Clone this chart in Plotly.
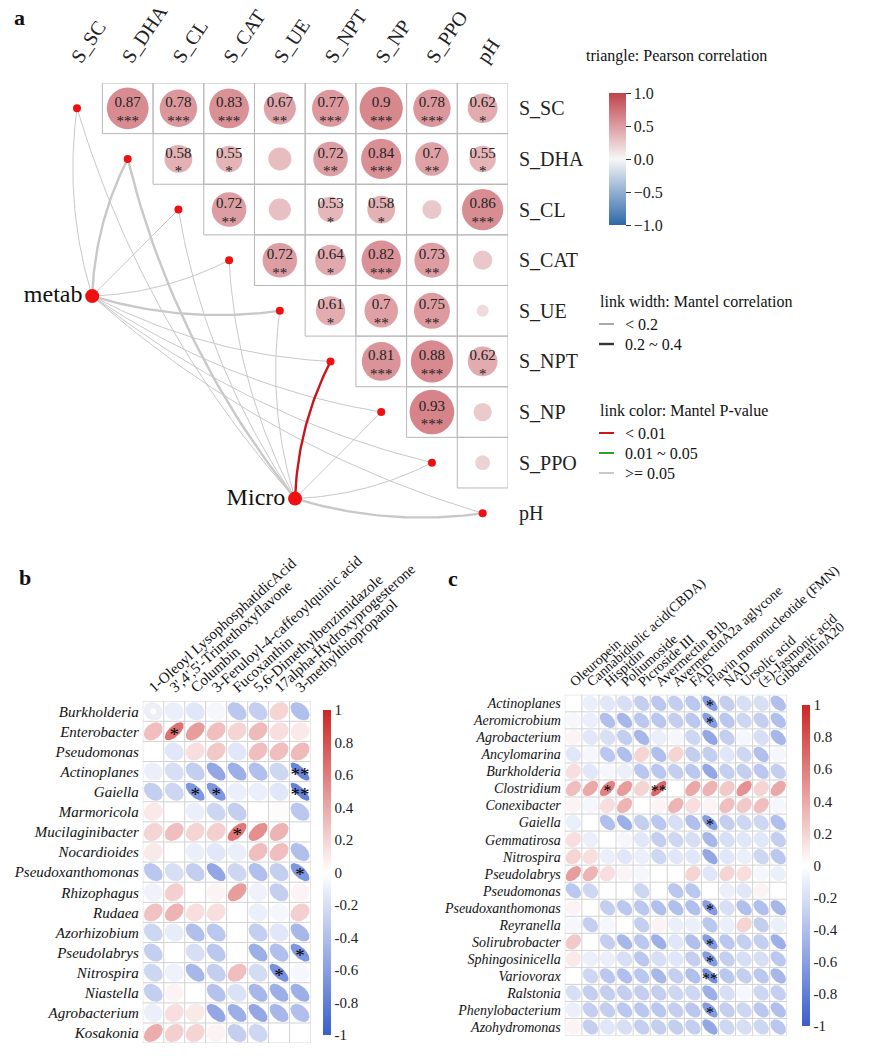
import math
import numpy as np
import plotly.graph_objects as go

SERIF = "Liberation Serif, Times New Roman, serif"
PAGE_OFF = 8                      # browser body margin
FW, FH = 870 - PAGE_OFF, 1056 - PAGE_OFF

# ---------------- Panel a data ----------------
env_vars = ["S_SC", "S_DHA", "S_CL", "S_CAT", "S_UE", "S_NPT", "S_NP", "S_PPO", "pH"]
# upper triangle, row i holds correlations with columns i+1 .. 8
pearson_r = [
    [0.87, 0.78, 0.83, 0.67, 0.77, 0.90, 0.78, 0.62],
    [0.58, 0.55, 0.48, 0.72, 0.84, 0.70, 0.55],
    [0.72, 0.46, 0.53, 0.58, 0.40, 0.86],
    [0.72, 0.64, 0.82, 0.73, 0.40],
    [0.61, 0.70, 0.75, 0.25],
    [0.81, 0.88, 0.62],
    [0.93, 0.38],
    [0.31],
]
pearson_sig = [
    ["***", "***", "***", "**", "***", "***", "***", "*"],
    ["*", "*", "", "**", "***", "**", "*"],
    ["**", "", "*", "*", "", "***"],
    ["**", "*", "***", "**", ""],
    ["*", "**", "**", ""],
    ["***", "***", "*"],
    ["***", ""],
    [""],
]
spec_names = ["metab", "Micro"]
spec_col = [0.30, 4.30]
spec_row = [3.71, 7.71]
mantel_r = [
    [0.12, 0.26, 0.10, 0.11, 0.24, 0.13, 0.10, 0.11, 0.12],
    [0.11, 0.23, 0.10, 0.10, 0.12, 0.31, 0.10, 0.13, 0.22],
]
mantel_p = [
    [0.21, 0.09, 0.35, 0.40, 0.12, 0.18, 0.30, 0.33, 0.28],
    [0.32, 0.11, 0.45, 0.38, 0.22, 0.004, 0.26, 0.19, 0.08],
]

# ---------------- Panel b data ----------------
b_taxa = ["Burkholderia", "Enterobacter", "Pseudomonas", "Actinoplanes", "Gaiella",
          "Marmoricola", "Mucilaginibacter", "Nocardioides", "Pseudoxanthomonas",
          "Rhizophagus", "Rudaea", "Azorhizobium", "Pseudolabrys", "Nitrospira",
          "Niastella", "Agrobacterium", "Kosakonia"]
b_metabolites = ["1-Oleoyl LysophosphatidicAcid", "3',4',5'-Trimethoxyflavone", "Columbin",
                 "3-Feruloyl-4-caffeoylquinic acid", "Fucoxanthin",
                 "5,6-Dimethylbenzimidazole", "17alpha-Hydroxyprogesterone",
                 "3-methylthiopropanol"]
b_r = [
    [-0.10, -0.10, -0.15, -0.05, -0.35, -0.30, 0.20, -0.40],
    [0.30, 0.65, 0.45, 0.30, 0.20, 0.32, 0.15, 0.10],
    [0.00, -0.15, 0.15, 0.25, -0.15, 0.30, 0.30, 0.32],
    [-0.10, -0.20, -0.30, -0.55, -0.50, -0.40, -0.25, -0.76],
    [-0.30, -0.25, -0.65, -0.65, -0.10, -0.10, -0.15, -0.78],
    [0.10, 0.00, -0.10, -0.25, -0.30, 0.00, 0.02, -0.35],
    [0.20, 0.30, 0.20, 0.22, 0.62, 0.52, 0.35, 0.00],
    [0.10, 0.00, -0.10, -0.15, -0.10, 0.30, 0.30, -0.40],
    [-0.35, -0.20, -0.30, -0.55, -0.25, -0.40, -0.30, -0.65],
    [-0.08, 0.22, 0.00, 0.05, 0.45, -0.08, -0.30, 0.05],
    [0.28, 0.35, 0.15, 0.15, 0.00, -0.10, -0.05, 0.22],
    [-0.25, -0.12, -0.40, -0.35, 0.00, -0.30, -0.15, -0.45],
    [-0.30, 0.00, -0.20, -0.35, 0.00, -0.50, -0.40, -0.65],
    [-0.25, -0.08, -0.45, -0.30, 0.30, -0.22, -0.68, -0.05],
    [-0.30, 0.05, 0.00, -0.38, -0.18, -0.45, -0.50, -0.50],
    [-0.10, 0.15, 0.10, -0.55, -0.50, -0.55, -0.45, -0.40],
    [0.38, 0.22, 0.20, 0.05, -0.30, -0.25, 0.00, 0.00],
]
b_sig = [
    ["", "", "", "", "", "", "", ""],
    ["", "*", "", "", "", "", "", ""],
    ["", "", "", "", "", "", "", ""],
    ["", "", "", "", "", "", "", "**"],
    ["", "", "*", "*", "", "", "", "**"],
    ["", "", "", "", "", "", "", ""],
    ["", "", "", "", "*", "", "", ""],
    ["", "", "", "", "", "", "", ""],
    ["", "", "", "", "", "", "", "*"],
    ["", "", "", "", "", "", "", ""],
    ["", "", "", "", "", "", "", ""],
    ["", "", "", "", "", "", "", ""],
    ["", "", "", "", "", "", "", "*"],
    ["", "", "", "", "", "", "*", ""],
    ["", "", "", "", "", "", "", ""],
    ["", "", "", "", "", "", "", ""],
    ["", "", "", "", "", "", "", ""],
]

# ---------------- Panel c data ----------------
c_taxa = ["Actinoplanes", "Aeromicrobium", "Agrobacterium", "Ancylomarina", "Burkholderia",
          "Clostridium", "Conexibacter", "Gaiella", "Gemmatirosa", "Nitrospira",
          "Pseudolabrys", "Pseudomonas", "Pseudoxanthomonas", "Reyranella",
          "Solirubrobacter", "Sphingosinicella", "Variovorax", "Ralstonia",
          "Phenylobacterium", "Azohydromonas"]
c_metabolites = ["Oleuropein", "Cannabidiolic acid(CBDA)", "Hispidin", "Poliumoside",
                 "Picroside III", "Avermectin B1b", "AvermectinA2a aglycone", "FAD",
                 "Flavin mononucleotide (FMN)", "NAD", "Ursolic acid",
                 "(\u00b1)-Jasmonic acid", "GibberellinA20"]
c_r = [
    [0.00, -0.10, -0.15, -0.20, -0.30, -0.35, -0.30, -0.35, -0.62, -0.30, -0.20, -0.20, -0.40],
    [-0.05, -0.10, -0.40, -0.45, -0.35, -0.35, -0.30, -0.35, -0.62, -0.35, -0.25, -0.30, -0.40],
    [0.05, -0.15, -0.20, -0.30, -0.45, -0.10, -0.05, -0.25, -0.55, -0.30, -0.05, -0.20, -0.45],
    [-0.15, -0.05, -0.35, -0.40, 0.20, -0.40, 0.20, -0.30, -0.30, -0.15, -0.25, -0.40, -0.05],
    [0.15, -0.15, -0.05, -0.10, -0.35, -0.35, -0.30, -0.35, -0.55, -0.30, -0.30, -0.35, -0.30],
    [0.30, 0.40, 0.58, 0.45, 0.20, 0.70, 0.00, 0.40, 0.35, 0.25, 0.50, 0.20, 0.40],
    [0.05, -0.05, 0.15, 0.35, 0.00, 0.05, 0.35, 0.15, 0.05, 0.30, 0.25, 0.30, -0.05],
    [-0.10, 0.00, -0.40, -0.50, -0.30, -0.35, -0.20, -0.40, -0.62, -0.30, -0.25, -0.25, -0.40],
    [0.15, -0.10, 0.00, -0.05, -0.15, -0.30, -0.25, -0.20, -0.45, -0.20, -0.15, -0.15, -0.30],
    [0.20, 0.15, -0.10, -0.15, -0.10, -0.25, -0.15, -0.15, -0.55, -0.15, -0.10, -0.25, -0.35],
    [0.45, 0.35, 0.15, 0.05, -0.05, 0.00, 0.00, 0.20, -0.15, 0.20, 0.15, -0.05, -0.10],
    [-0.35, -0.25, 0.00, 0.00, -0.25, 0.00, -0.35, -0.35, 0.00, -0.10, -0.15, 0.05, 0.00],
    [0.05, 0.00, -0.30, -0.35, -0.35, -0.40, -0.40, -0.40, -0.62, -0.20, -0.40, -0.40, -0.45],
    [-0.05, -0.30, -0.05, 0.00, -0.30, 0.05, -0.10, -0.10, -0.35, -0.10, 0.20, -0.30, -0.10],
    [0.25, 0.00, -0.30, -0.45, -0.35, -0.50, -0.15, -0.40, -0.62, -0.35, -0.30, -0.30, -0.50],
    [0.10, -0.10, -0.10, -0.20, -0.35, -0.20, -0.15, -0.30, -0.62, -0.30, -0.20, -0.20, -0.35],
    [0.00, -0.25, -0.35, -0.40, -0.35, -0.45, -0.30, -0.40, -0.70, -0.35, -0.30, -0.35, -0.45],
    [-0.20, -0.30, -0.30, -0.30, -0.30, -0.30, -0.25, -0.25, -0.50, -0.20, -0.05, -0.25, -0.30],
    [-0.10, -0.30, -0.30, -0.35, -0.35, -0.35, -0.30, -0.35, -0.62, -0.30, -0.25, -0.35, -0.40],
    [0.05, -0.30, -0.15, -0.20, -0.30, -0.30, -0.30, -0.30, -0.55, -0.25, -0.20, -0.25, -0.35],
]
c_sig = [[""] * 13 for _ in range(20)]
for (ri, ci, s) in [(0, 8, "*"), (1, 8, "*"), (5, 2, "*"), (5, 5, "**"), (7, 8, "*"),
                    (12, 8, "*"), (14, 8, "*"), (15, 8, "*"), (16, 8, "**"), (18, 8, "*")]:
    c_sig[ri][ci] = s

# ---------------- colours ----------------
A_SCALE = [[0.0, "#2E68A8"], [0.5, "#F7F7F7"], [1.0, "#C0434C"]]
BC_SCALE = [[0.0, "#3A5FCD"], [0.5, "#FFFFFF"], [1.0, "#CD2626"]]


def hex2rgb(h):
    h = h.lstrip("#")
    return tuple(int(h[i:i + 2], 16) for i in (0, 2, 4))


def scale_color(scale, v):
    t = min(1.0, max(0.0, (v + 1) / 2))
    for (p0, c0), (p1, c1) in zip(scale[:-1], scale[1:]):
        if t <= p1:
            f = (t - p0) / (p1 - p0)
            a, b = hex2rgb(c0), hex2rgb(c1)
            return "rgb(%d,%d,%d)" % tuple(round(a[i] + (b[i] - a[i]) * f) for i in range(3))
    return "rgb(%d,%d,%d)" % hex2rgb(scale[-1][1])


def pxx(px):
    return (px - PAGE_OFF) / FW


def pxy(py):
    return 1 - (py - PAGE_OFF) / FH


fig = go.Figure()

# ================= Panel a =================
gx, gy = [], []
for i, row in enumerate(pearson_r):
    for k in range(len(row)):
        j = i + 1 + k
        gx += [j - 0.5, j + 0.5, j + 0.5, j - 0.5, j - 0.5, None]
        gy += [i - 0.5, i - 0.5, i + 0.5, i + 0.5, i - 0.5, None]
fig.add_trace(go.Scatter(x=gx, y=gy, mode="lines", line=dict(color="#b8b8b8", width=1),
                         hoverinfo="skip", showlegend=False, xaxis="x", yaxis="y"))

for k in range(len(spec_names)):
    for j in range(len(env_vars)):
        x0, y0 = spec_col[k], spec_row[k]
        x1, y1 = float(j), float(j)
        dx, dy = x1 - x0, y1 - y0
        L = math.hypot(dx, dy)
        fac = (dx + dy) / (abs(dx) + abs(dy))
        fac = max(-1.0, min(1.0, 2 * fac))
        nx, ny = -dy / L, dx / L
        off = 0.11 * L * fac
        cx, cy = (x0 + x1) / 2 + nx * off, (y0 + y1) / 2 + ny * off
        t = np.linspace(0, 1, 40)
        bx = (1 - t) ** 2 * x0 + 2 * (1 - t) * t * cx + t ** 2 * x1
        by = (1 - t) ** 2 * y0 + 2 * (1 - t) * t * cy + t ** 2 * y1
        p = mantel_p[k][j]
        col = "#C8161D" if p < 0.01 else ("#2CA02C" if p < 0.05 else "#C8C8C8")
        wid = 2.4 if mantel_r[k][j] >= 0.2 else 1.0
        fig.add_trace(go.Scatter(x=bx, y=by, mode="lines", line=dict(color=col, width=wid),
                                 hoverinfo="skip", showlegend=False, xaxis="x", yaxis="y"))

cxs, cys, cvals, csz = [], [], [], []
txs, tys, tvals, sys_, stxt = [], [], [], [], []
for i, row in enumerate(pearson_r):
    for k, v in enumerate(row):
        j = i + 1 + k
        cxs.append(j); cys.append(i); cvals.append(v); csz.append(48 * abs(v))
        s = pearson_sig[i][k]
        if s:
            txs.append(j); tys.append(i - 0.1); tvals.append(f"{v:g}")
            sys_.append(i + 0.27); stxt.append(s)
fig.add_trace(go.Scatter(
    x=cxs, y=cys, mode="markers",
    marker=dict(size=csz, color=cvals, cmin=-1, cmax=1, colorscale=A_SCALE, line=dict(width=0),
                showscale=True,
                colorbar=dict(x=pxx(599), xanchor="left", y=pxy(159), yanchor="middle",
                              len=152 / FH, lenmode="fraction", thickness=17, outlinewidth=0,
                              tickvals=[-1, -0.5, 0, 0.5, 1],
                              ticktext=["\u22121.0", "\u22120.5", "0.0", "0.5", "1.0"],
                              ticks="outside", ticklen=5, tickcolor="#333",
                              tickfont=dict(family=SERIF, size=16, color="#222"))),
    hoverinfo="skip", showlegend=False, xaxis="x", yaxis="y"))
fig.add_trace(go.Scatter(x=txs, y=tys, mode="text", text=tvals,
                         textfont=dict(family=SERIF, size=15, color="#222"),
                         hoverinfo="skip", showlegend=False, xaxis="x", yaxis="y"))
fig.add_trace(go.Scatter(x=txs, y=sys_, mode="text", text=stxt,
                         textfont=dict(family=SERIF, size=15, color="#222"),
                         hoverinfo="skip", showlegend=False, xaxis="x", yaxis="y"))

fig.add_trace(go.Scatter(x=list(range(len(env_vars))), y=list(range(len(env_vars))), mode="markers",
                         marker=dict(size=8, color="#EE1111"), cliponaxis=False,
                         hoverinfo="skip", showlegend=False, xaxis="x", yaxis="y"))
fig.add_trace(go.Scatter(x=spec_col, y=spec_row, mode="markers+text", text=spec_names,
                         textposition="middle left",
                         textfont=dict(family=SERIF, size=24, color="#111"),
                         marker=dict(size=14, color="#EE1111"), cliponaxis=False,
                         hoverinfo="skip", showlegend=False, xaxis="x", yaxis="y"))


# ================= Panels b & c =================
def corr_panel(taxa, mets, rmat, smat, xa, ya, star_size):
    nr, nc = len(taxa), len(mets)
    gx, gy = [], []
    for r in range(nr + 1):
        gx += [-0.5, nc - 0.5, None]; gy += [r - 0.5, r - 0.5, None]
    for c in range(nc + 1):
        gx += [c - 0.5, c - 0.5, None]; gy += [-0.5, nr - 0.5, None]
    fig.add_trace(go.Scatter(x=gx, y=gy, mode="lines", line=dict(color="#d2d2d2", width=1),
                             hoverinfo="skip", showlegend=False, xaxis=xa, yaxis=ya))
    t = np.linspace(0, 2 * np.pi, 60)
    sx, sy, st = [], [], []
    for r in range(nr):
        for c in range(nc):
            v = rmat[r][c]
            a = math.acos(max(-1.0, min(1.0, v))) / 2
            ex = c + 0.45 * np.cos(t + a)
            ey = r - 0.45 * np.cos(t - a)
            fig.add_trace(go.Scatter(x=ex, y=ey, mode="lines", fill="toself",
                                     fillcolor=scale_color(BC_SCALE, v), line=dict(width=0),
                                     hoverinfo="skip", showlegend=False, xaxis=xa, yaxis=ya))
            if smat[r][c]:
                sx.append(c); sy.append(r + 0.22); st.append(smat[r][c])
    fig.add_trace(go.Scatter(x=sx, y=sy, mode="text", text=st,
                             textfont=dict(family=SERIF, size=star_size, color="#000"),
                             hoverinfo="skip", showlegend=False, xaxis=xa, yaxis=ya))


corr_panel(b_taxa, b_metabolites, b_r, b_sig, "x2", "y2", 19)
corr_panel(c_taxa, c_metabolites, c_r, c_sig, "x3", "y3", 16)

tick_vals_bc = [1, 0.8, 0.6, 0.4, 0.2, 0, -0.2, -0.4, -0.6, -0.8, -1]
tick_text_bc = ["1", "0.8", "0.6", "0.4", "0.2", "0", "-0.2", "-0.4", "-0.6", "-0.8", "-1"]
for xa, ya, xl, y0, y1 in [("x2", "y2", 313, 700, 1045), ("x3", "y3", 792, 695, 1036)]:
    fig.add_trace(go.Scatter(
        x=[0], y=[0], mode="markers",
        marker=dict(size=0, color=[0], cmin=-1, cmax=1, colorscale=BC_SCALE, showscale=True,
                    colorbar=dict(x=pxx(xl), xanchor="left", y=pxy((y0 + y1) / 2),
                                  yanchor="middle", len=(y1 - y0) / FH, lenmode="fraction",
                                  thickness=8, outlinewidth=0, tickvals=tick_vals_bc,
                                  ticktext=tick_text_bc, ticks="", ticklen=0,
                                  tickfont=dict(family=SERIF, size=15, color="#222"))),
        hoverinfo="skip", showlegend=False, xaxis=xa, yaxis=ya))

# ================= layout =================
ax_common = dict(showgrid=False, zeroline=False, showline=False, ticks="",
                 ticklabeloverflow="allow")
layout = dict(
    width=FW, height=FH, margin=dict(l=0, r=0, t=0, b=0),
    paper_bgcolor="white", plot_bgcolor="white", template="none", showlegend=False,
    font=dict(family=SERIF, color="#222"),
    xaxis=dict(domain=[pxx(51.65), pxx(508.0)], range=[-0.5, 8.5], side="top", anchor="y",
               tickvals=list(range(len(env_vars))), ticktext=env_vars, tickangle=-56,
               tickfont=dict(family=SERIF, size=20, color="#222"), ticklabelstandoff=9,
               ticklabelshift=-4, **ax_common),
    yaxis=dict(domain=[pxy(538.6), pxy(83.0)], range=[8.5, -0.5], side="right", anchor="x",
               tickvals=list(range(len(env_vars))), ticktext=env_vars,
               tickfont=dict(family=SERIF, size=20, color="#222"), ticklabelstandoff=10,
               **ax_common),
    xaxis2=dict(domain=[pxx(142.8), pxx(310.5)], range=[-0.5, len(b_metabolites) - 0.5], side="top",
                anchor="y2", tickvals=list(range(len(b_metabolites))), ticktext=b_metabolites,
                tickangle=-42, tickfont=dict(family=SERIF, size=15, color="#111"),
                ticklabelstandoff=2, ticklabelshift=-4, **ax_common),
    yaxis2=dict(domain=[pxy(1043.1), pxy(701.2)], range=[len(b_taxa) - 0.5, -0.5], anchor="x2",
                tickvals=list(range(len(b_taxa))), ticktext=[f"<i>{t}</i>" for t in b_taxa],
                tickfont=dict(family=SERIF, size=15, color="#111"), ticklabelstandoff=3,
                **ax_common),
    xaxis3=dict(domain=[pxx(564.8), pxx(786.8)], range=[-0.5, len(c_metabolites) - 0.5], side="top",
                anchor="y3", tickvals=list(range(len(c_metabolites))), ticktext=c_metabolites,
                tickangle=-42, tickfont=dict(family=SERIF, size=14, color="#111"),
                ticklabelstandoff=2, ticklabelshift=-3, **ax_common),
    yaxis3=dict(domain=[pxy(1035.5), pxy(694.8)], range=[len(c_taxa) - 0.5, -0.5], anchor="x3",
                tickvals=list(range(len(c_taxa))), ticktext=[f"<i>{t}</i>" for t in c_taxa],
                tickfont=dict(family=SERIF, size=14, color="#111"), ticklabelstandoff=3,
                **ax_common),
)
fig.update_layout(**layout)

ann = []
shapes = []


def add_text(txt, x, y, size=16, bold=False, xanchor="left"):
    ann.append(dict(text=f"<b>{txt}</b>" if bold else txt, x=pxx(x), y=pxy(y),
                    xref="paper", yref="paper", xanchor=xanchor, yanchor="middle", showarrow=False,
                    font=dict(family=SERIF, size=size, color="#111")))


add_text("a", 12, 17, size=22, bold=True)
add_text("b", 17, 577, size=22, bold=True)
add_text("c", 446, 578, size=22, bold=True)
add_text("triangle: Pearson correlation", 584, 56, size=16)
add_text("link width: Mantel correlation", 598, 301, size=16)
add_text("link color: Mantel P-value", 598, 410, size=16)

legend_items = [("< 0.2", 324, "#555555", 1.0), ("0.2 ~ 0.4", 344, "#333333", 2.4),
                ("< 0.01", 433, "#C8161D", 2.0), ("0.01 ~ 0.05", 453, "#2CA02C", 2.0),
                (">= 0.05", 473, "#C8C8C8", 2.0)]
for lab, yy, colr, wd in legend_items:
    shapes.append(dict(type="line", xref="paper", yref="paper", x0=pxx(599), x1=pxx(614),
                       y0=pxy(yy), y1=pxy(yy), line=dict(color=colr, width=wd)))
    add_text(lab, 623, yy, size=16)

fig.update_layout(annotations=ann, shapes=shapes)
fig.write_html("out.html")
